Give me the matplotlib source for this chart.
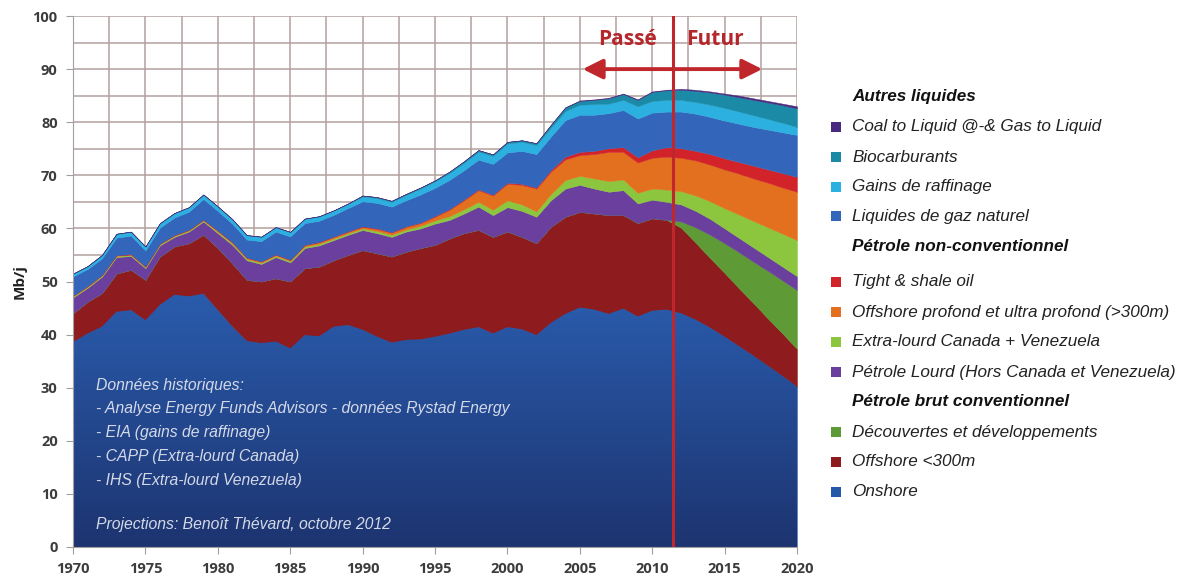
import numpy as np
import matplotlib
matplotlib.use("Agg")
import matplotlib.pyplot as plt
from matplotlib.patches import Rectangle
from matplotlib.colors import LinearSegmentedColormap

years = list(range(1970, 2021))

onshore = [38.6, 40.2, 41.5, 44.3, 44.6, 42.7, 45.6, 47.5, 47.2, 47.7,
           44.6, 41.5, 38.8, 38.4, 38.7, 37.4, 39.9, 39.7, 41.5, 41.8,
           40.9, 39.6, 38.5, 39.0, 39.1, 39.6, 40.2, 40.9, 41.4, 40.2,
           41.4, 41.0, 39.9, 42.2, 43.9, 45.1, 44.7, 43.9, 44.9, 43.4,
           44.5, 44.7, 44.0, 42.8, 41.3, 39.6, 37.8, 36.0, 34.1, 32.2, 30.2]
offshore_300 = [5.4, 6.0, 6.3, 7.2, 7.6, 7.6, 9.1, 9.1, 10.0, 11.1,
                11.7, 11.9, 11.5, 11.6, 11.9, 12.6, 12.6, 13.1, 12.5, 13.2,
                15.0, 15.7, 16.2, 16.6, 17.2, 17.3, 17.9, 18.2, 18.3, 18.2,
                18.0, 17.4, 17.3, 18.1, 18.3, 18.0, 18.1, 18.6, 17.6, 17.6,
                17.4, 16.9, 16.1, 14.5, 13.1, 12.0, 10.9, 9.9, 8.9, 8.0, 7.1]
decouvertes = [0.0] * 42 + [1.2, 2.9, 4.4, 5.6, 6.8, 7.8, 9.0, 10.0, 11.1]
lourd = [3.0, 2.6, 3.1, 3.1, 2.6, 2.2, 2.1, 1.8, 2.2, 2.5,
         2.8, 3.5, 3.7, 3.3, 4.0, 3.6, 3.8, 4.0, 3.8, 3.8,
         3.8, 3.8, 3.7, 3.8, 3.7, 4.0, 3.5, 3.7, 4.4, 4.1,
         4.6, 4.9, 5.0, 5.0, 5.3, 5.1, 4.7, 4.4, 4.7, 3.7,
         3.5, 3.4, 3.2, 3.1, 3.0, 2.8, 2.7, 2.7, 2.6, 2.6, 2.6]
extra_lourd = [0.2] * 10 + [0.25] * 6 + [0.3] * 5 + \
              [0.4, 0.4, 0.4, 0.5, 0.6, 0.7, 0.8, 0.9, 1.0,
               1.3, 1.2, 1.0, 1.2, 1.6, 1.7, 1.9, 2.0, 2.0, 2.0,
               2.1, 2.3, 2.5, 2.9, 3.3, 3.8, 4.4, 5.0, 5.6, 6.2, 6.8]
offshore_profond = [0.1] * 10 + [0.2] * 6 + [0.25, 0.3, 0.3, 0.3, 0.3] + \
                   [0.4, 0.4, 0.5, 0.5, 0.7, 1.2, 1.7, 2.2, 2.7,
                    3.1, 3.7, 4.3, 4.2, 3.9, 3.9, 4.6, 5.5, 5.2, 5.7,
                    5.8, 6.2, 6.3, 6.6, 6.9, 7.3, 7.7, 8.0, 8.4, 8.7, 9.1]
tight_shale = [0.05] * 20 + [0.1] * 5 + [0.15] * 5 + [0.2, 0.2, 0.2, 0.3] + \
              [0.5, 0.6, 0.6, 0.7, 0.9, 1.0, 1.4, 1.8,
               1.8, 1.8, 2.0, 2.1, 2.2, 2.4, 2.5, 2.7, 2.8]
ngl = [3.6, 3.2, 3.1, 3.3, 3.5, 3.0, 3.0, 3.3, 3.4, 3.9,
       3.7, 3.5, 3.4, 3.8, 4.3, 4.4, 4.1, 4.0, 4.1, 4.4,
       4.7, 4.8, 4.8, 4.9, 5.3, 5.3, 5.5, 5.5, 5.6, 5.8,
       5.7, 6.2, 6.3, 6.3, 6.9, 7.0, 6.8, 6.6, 7.0, 7.3,
       7.1, 6.7, 6.9, 7.0, 7.0, 7.1, 7.2, 7.3, 7.5, 7.7, 7.9]
raffinage = [0.5, 0.5, 0.6, 0.7, 0.7, 0.7, 0.8, 0.8, 0.8, 0.8,
             0.8, 0.8, 0.8, 0.8, 0.8, 0.8, 0.8, 0.8, 0.8, 0.8,
             0.9, 0.9, 0.9, 1.0, 1.1, 1.2, 1.3, 1.4, 1.5, 1.5,
             1.7, 1.7, 1.7, 1.7, 1.7, 1.9, 2.0, 1.8, 1.9, 2.3,
             2.2, 2.2, 2.2, 2.2, 2.3, 2.4, 2.3, 2.2, 2.0, 1.8, 1.5]
biocarburants = [0.05] * 20 + [0.2, 0.2, 0.2, 0.2, 0.2, 0.2, 0.25, 0.3, 0.3, 0.3,
                               0.3, 0.3, 0.35, 0.5, 0.7, 0.7, 0.8, 1.0, 1.1, 1.2,
                               1.7, 1.8, 1.9, 2.1, 2.3, 2.5, 2.7, 2.9, 3.1, 3.3, 3.5]
coal_gas_to_liquid = [0.0] * 35 + [0.1] * 7 + [0.2, 0.2, 0.2, 0.2, 0.3, 0.3, 0.3, 0.3, 0.4]

y_ticks = list(range(0, 101, 10))
x_ticks = list(range(1970, 2021, 5))
split_year = 2011.45

series = [
    ("Onshore", onshore, "#2558a8"),
    ("Offshore <300m", offshore_300, "#8e1b1d"),
    ("Découvertes et développements", decouvertes, "#5e9a36"),
    ("Pétrole Lourd (Hors Canada et Venezuela)", lourd, "#6a3f9e"),
    ("Extra-lourd Canada + Venezuela", extra_lourd, "#8cc63e"),
    ("Offshore profond et ultra profond (>300m)", offshore_profond, "#e2701f"),
    ("Tight & shale oil", tight_shale, "#d2232a"),
    ("Liquides de gaz naturel", ngl, "#3366bb"),
    ("Gains de raffinage", raffinage, "#2cb0e0"),
    ("Biocarburants", biocarburants, "#1b8aa6"),
    ("Coal to Liquid @-& Gas to Liquid", coal_gas_to_liquid, "#4a2a7e"),
]

fig = plt.figure(figsize=(11.81, 5.78), dpi=100)
ax = fig.add_axes([73 / 1181, 31 / 578, 724 / 1181, 531 / 578])

x = np.array(years, dtype=float)
base = np.zeros(len(years))
polys = []
for name, vals, col in series:
    top = base + np.array(vals)
    p = ax.fill_between(x, base, top, facecolor=col, edgecolor=col, linewidth=0.3, zorder=2)
    polys.append(p)
    base = top

# gradient for onshore
cmap = LinearSegmentedColormap.from_list("g", ["#1d3470", "#2a5cad"])
grad = np.linspace(0, 1, 256).reshape(-1, 1)
im = ax.imshow(grad, extent=[1970, 2020, 0, 48], origin="lower", aspect="auto",
               cmap=cmap, zorder=2.1)
im.set_clip_path(polys[0].get_paths()[0], transform=ax.transData)

ax.set_xlim(1970, 2020)
ax.set_ylim(0, 100)
ax.set_xticks(x_ticks)
ax.set_yticks(y_ticks)
ax.set_xticks(np.arange(1970, 2020.1, 2.5), minor=True)
ax.set_yticks(np.arange(0, 100.1, 5), minor=True)
ax.grid(True, which="both", color="#b3a09e", linewidth=1.1, zorder=0)
ax.set_axisbelow(True)
for s in ["top", "right"]:
    ax.spines[s].set_visible(False)
for s in ["left", "bottom"]:
    ax.spines[s].set_color("#a0a0a0")
ax.tick_params(which="minor", length=0)
ax.tick_params(which="major", length=5, color="#a0a0a0", labelsize=10.5,
               labelcolor="#3c3c3c")
ax.tick_params(axis="y", pad=6)
ax.tick_params(axis="x", pad=6)
for lbl in ax.get_xticklabels() + ax.get_yticklabels():
    lbl.set_fontweight("bold")
    lbl.set_family("Open Sans")
ax.set_ylabel("Mb/j", fontsize=11, fontweight="bold", color="#222222", labelpad=4,
              family="Open Sans")

# vertical split line
ax.axvline(split_year, color="#c0272d", linewidth=2.2, zorder=5)
ax.annotate("", xy=(2005.2, 90), xytext=(2017.6, 90),
            arrowprops=dict(arrowstyle="<|-|>,head_width=0.6,head_length=1.2",
                            color="#c0272d", lw=2.8, shrinkA=0, shrinkB=0), zorder=6)
ax.text(2008.3, 95.5, "Passé", color="#b5272c", fontsize=15, fontweight="bold",
        ha="center", va="center", family="Open Sans", zorder=6)
ax.text(2014.3, 95.5, "Futur", color="#b5272c", fontsize=15, fontweight="bold",
        ha="center", va="center", family="Open Sans", zorder=6)

notes = [
    ("Données historiques:", 30.5),
    ("- Analyse Energy Funds Advisors - données Rystad Energy", 26.0),
    ("- EIA (gains de raffinage)", 21.5),
    ("- CAPP (Extra-lourd Canada)", 17.0),
    ("- IHS (Extra-lourd Venezuela)", 12.5),
    ("Projections: Benoît Thévard, octobre 2012", 4.3),
]
for t, yy in notes:
    ax.text(1971.6, yy, t, color="#d4d9e8", fontsize=11.3, style="italic",
            family="Liberation Sans", va="center", ha="left", zorder=6)

# legend
W, H = 1181, 578
def fy(py):
    return 1 - py / H

legend_items = [
    ("Autres liquides", None, 97),
    ("Coal to Liquid @-& Gas to Liquid", "#4a2a7e", 127),
    ("Biocarburants", "#1b8aa6", 157),
    ("Gains de raffinage", "#2cb0e0", 187),
    ("Liquides de gaz naturel", "#3366bb", 216),
    ("Pétrole non-conventionnel", None, 246),
    ("Tight & shale oil", "#d2232a", 282),
    ("Offshore profond et ultra profond (>300m)", "#e2701f", 312),
    ("Extra-lourd Canada + Venezuela", "#8cc63e", 342),
    ("Pétrole Lourd (Hors Canada et Venezuela)", "#6a3f9e", 372),
    ("Pétrole brut conventionnel", None, 402),
    ("Découvertes et développements", "#5e9a36", 432),
    ("Offshore <300m", "#8e1b1d", 462),
    ("Onshore", "#2558a8", 492),
]
for label, col, py in legend_items:
    if col is None:
        fig.text(852 / W, fy(py), label, fontsize=12.3, fontweight="bold", style="italic",
                 family="Liberation Sans", color="#111111", va="center", ha="left")
    else:
        fig.patches.append(Rectangle((831 / W, fy(py + 5)), 10 / W, 10 / H,
                                     transform=fig.transFigure, facecolor=col,
                                     edgecolor="none"))
        fig.text(852 / W, fy(py), label, fontsize=12.3, style="italic",
                 family="Liberation Sans", color="#222222", va="center", ha="left")

fig.savefig("out.png", dpi=100)
